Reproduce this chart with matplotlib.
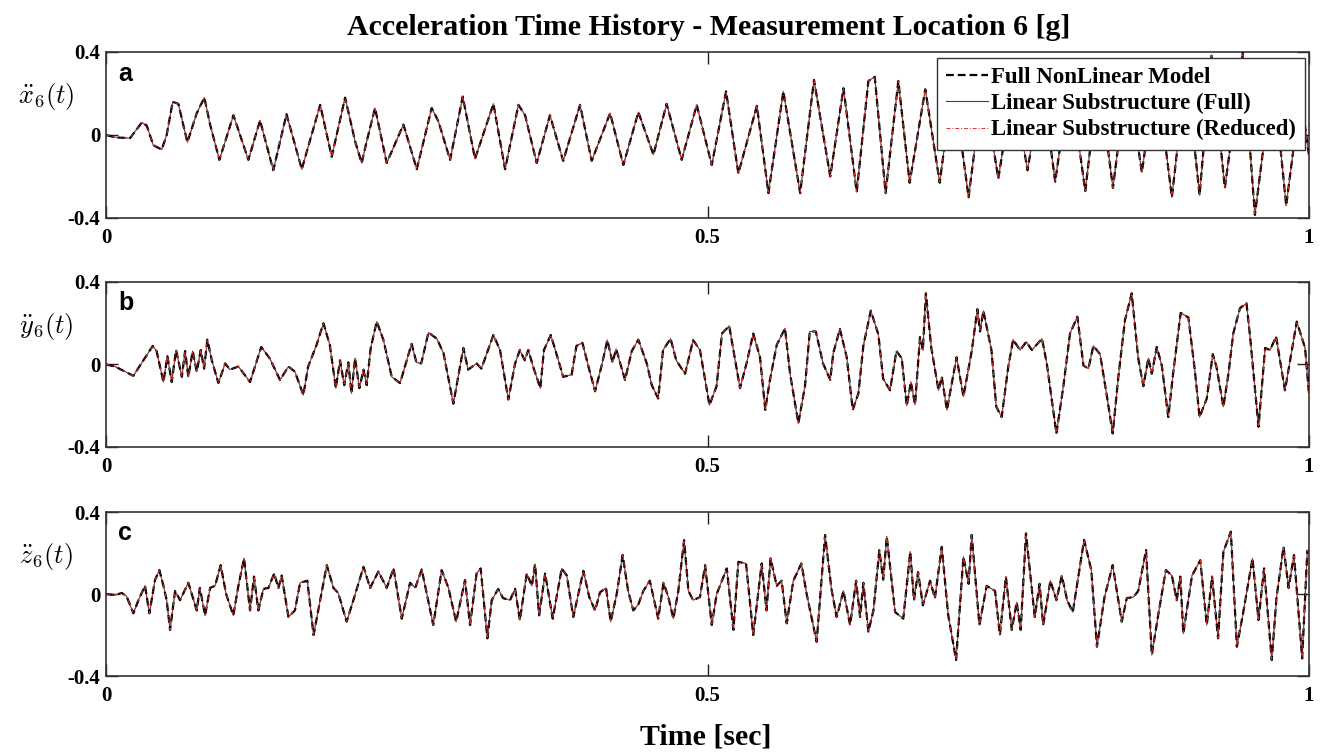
import matplotlib
matplotlib.use("Agg")
import matplotlib.pyplot as plt

plt.rcParams["mathtext.fontset"] = "cm"
SERIF = "Liberation Serif"

# values (peaks / troughs), time in s, acceleration in g
t_a = [0.000, 0.008, 0.020, 0.0297, 0.0338, 0.0393, 0.0463, 0.0504, 0.0554, 0.0601,
       0.0676, 0.0754, 0.0817, 0.0865, 0.0942, 0.1059, 0.1183, 0.128, 0.139, 0.150,
       0.1627, 0.178, 0.1876, 0.1987, 0.207, 0.2125, 0.2167, 0.2236, 0.2333, 0.2472,
       0.2583, 0.2707, 0.2763, 0.286, 0.2965, 0.3067, 0.322, 0.3317, 0.3428, 0.3483,
       0.358, 0.369, 0.380, 0.394, 0.4037, 0.419, 0.430, 0.4425, 0.455, 0.466,
       0.4785, 0.491, 0.5035, 0.5154, 0.5256, 0.541, 0.5506, 0.563, 0.577, 0.5885,
       0.602, 0.613, 0.624, 0.6337, 0.639, 0.648, 0.6586, 0.668, 0.681, 0.693,
       0.704, 0.717, 0.729, 0.7417, 0.754, 0.766, 0.778, 0.789, 0.801, 0.814,
       0.825, 0.837, 0.849, 0.861, 0.873, 0.886, 0.898, 0.909, 0.919, 0.930,
       0.945, 0.955, 0.970, 0.981, 0.993, 1.000]
acc_a = [0.000, -0.012, -0.015, 0.06, 0.045, -0.05, -0.07, 0.0, 0.16, 0.15,
         -0.035, 0.105, 0.18, 0.05, -0.12, 0.095, -0.12, 0.07, -0.17, 0.10,
         -0.165, 0.145, -0.105, 0.18, -0.03, -0.135, -0.03, 0.13, -0.135, 0.05,
         -0.165, 0.13, 0.065, -0.12, 0.185, -0.115, 0.15, -0.165, 0.145, 0.095,
         -0.135, 0.095, -0.125, 0.145, -0.125, 0.105, -0.145, 0.11, -0.095, 0.15,
         -0.12, 0.145, -0.145, 0.21, -0.185, 0.14, -0.28, 0.21, -0.28, 0.265,
         -0.20, 0.225, -0.275, 0.26, 0.28, -0.28, 0.26, -0.23, 0.22, -0.23,
         0.26, -0.30, 0.25, -0.21, 0.24, -0.17, 0.26, -0.225, 0.27, -0.27,
         0.28, -0.255, 0.30, -0.18, 0.30, -0.30, 0.32, -0.29, 0.385, -0.255,
         0.395, -0.385, 0.30, -0.34, 0.20, -0.10]

t_b = [0.000, 0.0075, 0.0227, 0.031, 0.0388, 0.042, 0.0477, 0.051, 0.0546, 0.0582,
       0.063, 0.0657, 0.0684, 0.072, 0.0754, 0.0787, 0.0815, 0.0842, 0.0879, 0.0934,
       0.099, 0.103, 0.110, 0.1197, 0.129, 0.136, 0.1446, 0.1516, 0.157, 0.164,
       0.168, 0.175, 0.1807, 0.186, 0.191, 0.1945, 0.198, 0.2014, 0.204, 0.207,
       0.2106, 0.214, 0.2167, 0.220, 0.225, 0.2305, 0.2375, 0.2444, 0.254, 0.258,
       0.262, 0.268, 0.275, 0.2805, 0.2887, 0.297, 0.301, 0.308, 0.312, 0.322,
       0.3275, 0.3344, 0.340, 0.344, 0.348, 0.351, 0.355, 0.361, 0.364, 0.3697,
       0.376, 0.380, 0.387, 0.391, 0.396, 0.401, 0.4065, 0.412, 0.4167, 0.421,
       0.424, 0.4314, 0.437, 0.4425, 0.4495, 0.4536, 0.459, 0.463, 0.4693, 0.474,
       0.4813, 0.488, 0.4937, 0.5016, 0.5075, 0.512, 0.518, 0.523, 0.527, 0.5326,
       0.538, 0.5436, 0.548, 0.5514, 0.5575, 0.5644, 0.5686, 0.5755, 0.581, 0.585,
       0.590, 0.596, 0.602, 0.6045, 0.610, 0.6157, 0.6207, 0.6254, 0.6295, 0.6357,
       0.642, 0.646, 0.6517, 0.657, 0.6614, 0.6656, 0.669, 0.6725, 0.6766, 0.679,
       0.6815, 0.686, 0.692, 0.6947, 0.699, 0.707, 0.7127, 0.7196, 0.7243, 0.7265,
       0.7293, 0.736, 0.740, 0.7445, 0.750, 0.754, 0.7598, 0.765, 0.7696, 0.778,
       0.782, 0.790, 0.7958, 0.8013, 0.8074, 0.8125, 0.8166, 0.8207, 0.8263, 0.832,
       0.8368, 0.8415, 0.847, 0.8526, 0.858, 0.8623, 0.8664, 0.8693, 0.8734, 0.8776,
       0.883, 0.887, 0.8933, 0.8997, 0.905, 0.909, 0.915, 0.920, 0.923, 0.9288,
       0.933, 0.937, 0.9426, 0.948, 0.951, 0.958, 0.9635, 0.9676, 0.9726, 0.980,
       0.9898, 0.9967, 1.000]
acc_b = [0.000, -0.010, -0.055, 0.020, 0.090, 0.065, -0.085, 0.040, -0.085, 0.070,
         -0.060, 0.065, -0.060, 0.065, -0.035, 0.070, -0.020, 0.120, 0.020, -0.090,
         0.005, -0.025, -0.010, -0.085, 0.085, 0.030, -0.075, -0.010, -0.035, -0.148,
         -0.010, 0.095, 0.200, 0.095, -0.115, 0.020, -0.100, 0.010, -0.140, 0.030,
         -0.115, -0.025, -0.100, 0.080, 0.208, 0.120, -0.060, -0.090, 0.100, 0.010,
         0.005, 0.155, 0.125, 0.055, -0.190, 0.080, -0.025, 0.005, -0.020, 0.143,
         0.070, -0.170, 0.005, 0.070, 0.020, 0.070, -0.010, -0.115, 0.070, 0.143,
         0.020, -0.060, -0.050, 0.090, 0.105, -0.010, -0.130, -0.005, 0.118, 0.010,
         0.075, -0.075, 0.065, 0.120, 0.005, -0.100, -0.165, 0.070, 0.125, 0.020,
         -0.045, 0.118, 0.070, -0.197, -0.105, 0.150, 0.187, 0.020, -0.115, 0.010,
         0.150, 0.035, -0.220, -0.090, 0.095, 0.175, -0.045, -0.285, -0.105, 0.160,
         0.160, 0.005, -0.075, 0.055, 0.172, 0.035, -0.220, -0.140, 0.090, 0.261,
         0.145, -0.070, -0.125, 0.065, 0.030, -0.200, -0.085, -0.195, 0.133, 0.070,
         0.345, 0.080, -0.125, -0.060, -0.220, 0.035, -0.155, 0.065, 0.268, 0.160,
         0.260, 0.070, -0.205, -0.255, -0.010, 0.120, 0.070, 0.110, 0.070, 0.125,
         0.005, -0.335, -0.105, 0.150, 0.232, -0.005, -0.020, 0.090, 0.050, -0.155,
         -0.335, -0.060, 0.215, 0.345, 0.030, -0.105, 0.030, -0.045, 0.085, -0.005,
         -0.255, -0.045, 0.250, 0.228, -0.025, -0.255, -0.165, 0.050, -0.010, -0.205,
         -0.045, 0.150, 0.273, 0.297, 0.135, -0.302, 0.080, 0.070, 0.135, -0.125,
         0.208, 0.080, -0.145]

t_c = [0.000, 0.0075, 0.013, 0.017, 0.0227, 0.0269, 0.0324, 0.036, 0.0407, 0.0443,
       0.0477, 0.0504, 0.0532, 0.0574, 0.0615, 0.0684, 0.0754, 0.078, 0.0823, 0.0865,
       0.0906, 0.0953, 0.0998, 0.1058, 0.110, 0.1147, 0.1197, 0.123, 0.1266, 0.1308,
       0.135, 0.1397, 0.1433, 0.146, 0.1516, 0.157, 0.1613, 0.1673, 0.1725, 0.178,
       0.1835, 0.189, 0.193, 0.200, 0.2056, 0.214, 0.2195, 0.2264, 0.2333, 0.239,
       0.2458, 0.2527, 0.257, 0.2624, 0.272, 0.279, 0.2846, 0.291, 0.2984, 0.3026,
       0.308, 0.3114, 0.317, 0.3206, 0.326, 0.330, 0.3358, 0.340, 0.344, 0.3497,
       0.354, 0.3566, 0.360, 0.365, 0.3713, 0.3788, 0.383, 0.3884, 0.3968, 0.4017,
       0.4065, 0.4106, 0.4156, 0.4195, 0.4245, 0.4294, 0.434, 0.4383, 0.4425, 0.4466,
       0.452, 0.459, 0.4634, 0.4674, 0.4716, 0.4757, 0.4805, 0.4841, 0.488, 0.4937,
       0.498, 0.5007, 0.5035, 0.5076, 0.516, 0.5215, 0.5256, 0.532, 0.538, 0.545,
       0.549, 0.5524, 0.5575, 0.5616, 0.5658, 0.5713, 0.578, 0.5824, 0.5907, 0.5977,
       0.603, 0.6073, 0.613, 0.6185, 0.6235, 0.6268, 0.6295, 0.6337, 0.6379, 0.6428,
       0.646, 0.649, 0.6559, 0.6627, 0.6685, 0.6716, 0.675, 0.679, 0.685, 0.689,
       0.6947, 0.700, 0.7066, 0.7127, 0.717, 0.7196, 0.726, 0.732, 0.739, 0.743,
       0.748, 0.7529, 0.757, 0.7603, 0.7647, 0.772, 0.776, 0.779, 0.785, 0.790,
       0.7945, 0.7989, 0.8036, 0.813, 0.819, 0.8237, 0.830, 0.8368, 0.8443, 0.8485,
       0.854, 0.858, 0.8645, 0.8693, 0.8748, 0.881, 0.886, 0.890, 0.893, 0.8955,
       0.9027, 0.9096, 0.915, 0.9194, 0.9244, 0.9288, 0.935, 0.940, 0.945, 0.953,
       0.958, 0.9626, 0.969, 0.973, 0.9788, 0.983, 0.9875, 0.9943, 0.9986]
acc_c = [0.000, -0.005, 0.005, -0.010, -0.094, -0.030, 0.040, -0.094, 0.068, 0.117,
         0.040, -0.030, -0.175, 0.015, -0.030, 0.055, -0.080, 0.030, -0.104, 0.030,
         0.040, 0.141, 0.000, -0.104, 0.040, 0.174, -0.080, 0.085, -0.080, 0.025,
         0.030, 0.100, 0.030, 0.090, -0.112, -0.080, 0.055, 0.065, -0.200, -0.030,
         0.141, 0.030, 0.005, -0.135, -0.030, 0.133, 0.030, 0.110, 0.030, 0.125,
         -0.120, 0.055, 0.030, 0.120, -0.151, 0.117, 0.030, -0.135, 0.068, -0.151,
         0.100, 0.125, -0.216, -0.030, 0.025, -0.020, -0.030, 0.025, -0.127, 0.100,
         0.040, 0.146, -0.104, 0.100, -0.120, 0.125, 0.090, -0.112, 0.113, -0.015,
         -0.080, 0.008, 0.030, -0.135, 0.000, 0.190, 0.015, -0.080, -0.050, 0.015,
         0.065, -0.120, 0.055, -0.015, -0.120, 0.015, 0.263, 0.015, -0.030, -0.015,
         0.141, 0.000, -0.151, 0.000, 0.125, -0.175, 0.157, 0.149, -0.200, 0.149,
         -0.080, 0.174, 0.040, 0.065, -0.143, 0.065, 0.149, 0.000, -0.233, 0.288,
         0.025, -0.112, 0.015, -0.151, 0.065, -0.112, 0.055, -0.183, -0.080, 0.214,
         0.070, 0.280, -0.088, -0.120, 0.206, -0.030, 0.107, -0.055, 0.065, -0.020,
         0.230, -0.100, -0.322, 0.182, 0.050, 0.288, -0.151, 0.040, 0.015, -0.200,
         0.085, -0.175, -0.040, -0.175, 0.296, -0.112, 0.050, -0.151, 0.065, -0.030,
         0.090, -0.030, -0.088, 0.264, 0.117, -0.257, -0.015, 0.141, -0.135, -0.020,
         -0.015, 0.015, 0.214, -0.297, -0.096, 0.117, 0.090, -0.030, 0.085, -0.192,
         0.090, 0.165, -0.151, 0.085, -0.216, 0.206, 0.304, -0.257, -0.100, 0.174,
         -0.127, 0.125, -0.322, -0.015, 0.230, 0.030, 0.190, -0.314, 0.214]

panels = [("a", r"$\ddot{x}_6(t)$", t_a, acc_a),
          ("b", r"$\ddot{y}_6(t)$", t_b, acc_b),
          ("c", r"$\ddot{z}_6(t)$", t_c, acc_c)]

series_labels = ["Full NonLinear Model", "Linear Substructure (Full)",
                 "Linear Substructure (Reduced)"]

fig = plt.figure(figsize=(13.24, 7.55), dpi=100)
bottoms = [0.7113, 0.408, 0.1046]
heights = [0.2199, 0.2185, 0.2172]

for i, (letter, ylab, t, acc) in enumerate(panels):
    ax = fig.add_axes([0.0801, bottoms[i], 0.9086, heights[i]])
    ax.plot(t, acc, color="#444444", lw=0.8, ls="-", label=series_labels[1], zorder=2)
    ax.plot(t, acc, color="black", lw=1.6, ls=(0, (3.5, 1.8)), label=series_labels[0], zorder=3)
    ax.plot(t, acc, color="#e0302a", lw=0.7, ls=(0, (4, 2, 1, 2)), label=series_labels[2], zorder=4)

    ax.set_xlim(0, 1)
    ax.set_ylim(-0.4, 0.4)
    ax.set_xticks([0, 0.5, 1])
    ax.set_xticklabels(["0", "0.5", "1"])
    ax.set_yticks([-0.4, 0, 0.4])
    ax.set_yticklabels(["-0.4", "0", "0.4"])
    ax.tick_params(direction="in", length=8.5, width=1, top=True, right=True,
                   labelsize=15, pad=4, color="#222222")
    ax.tick_params(axis="x", pad=7)
    for lab in ax.get_xticklabels() + ax.get_yticklabels():
        lab.set_family(SERIF)
        lab.set_fontweight("bold")
    for sp in ax.spines.values():
        sp.set_linewidth(1.2)
        sp.set_color("#333333")

    ax.text(0.01, 0.87, letter, transform=ax.transAxes, ha="left", va="center",
            fontsize=18, fontweight="bold", family="Liberation Sans")
    ax.text(-0.05, 0.73, ylab, transform=ax.transAxes, ha="center", va="center",
            fontsize=19)

    if i == 0:
        handles, labels = ax.get_legend_handles_labels()
        order = [1, 0, 2]
        leg = ax.legend([handles[k] for k in order], [labels[k] for k in order],
                        loc="upper right", bbox_to_anchor=(0.9967, 0.964),
                        prop={"family": SERIF, "weight": "bold", "size": 16.5},
                        frameon=True, fancybox=False, framealpha=1,
                        edgecolor="#333333", handlelength=1.8, handletextpad=0.15,
                        borderpad=0.4, labelspacing=0.22, borderaxespad=0)
        leg.get_frame().set_linewidth(1.0)

fig.text(0.535, 0.963, "Acceleration Time History - Measurement Location 6 [g]",
         ha="center", va="center", family=SERIF, fontweight="bold", fontsize=21.5)
fig.text(0.533, 0.024, "Time [sec]", ha="center", va="center",
         family=SERIF, fontweight="bold", fontsize=21.5)

fig.savefig("out.png", dpi=100)
